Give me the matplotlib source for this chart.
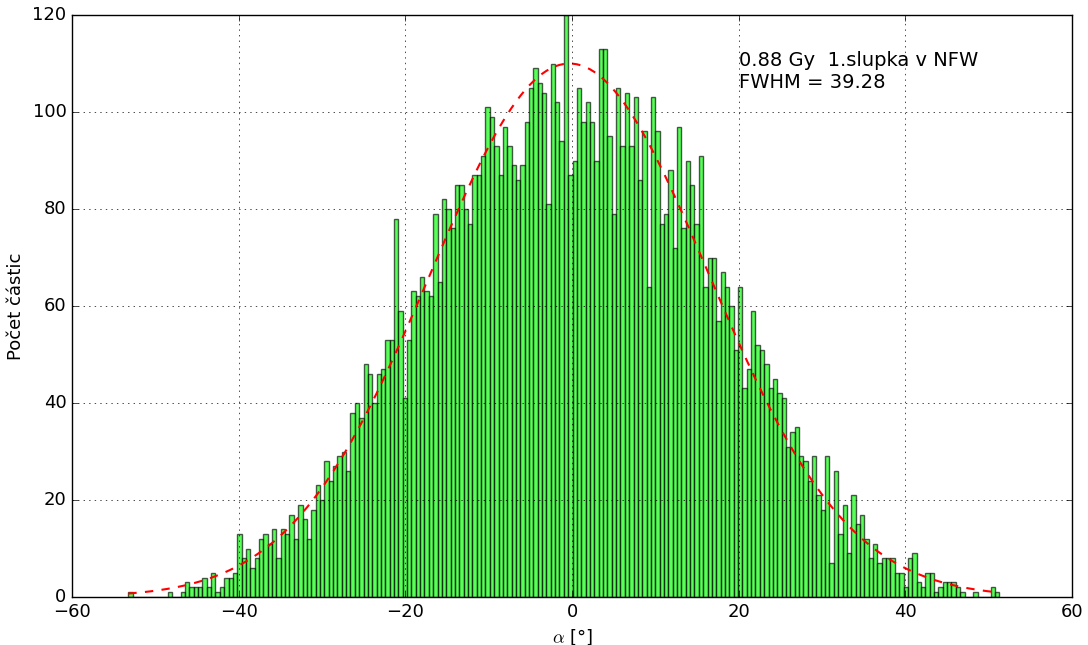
import numpy as np
import matplotlib
matplotlib.use('Agg')
import matplotlib.pyplot as plt

plt.style.use('classic')

# histogram of alpha angles, 200 bins between data min and max
alpha_min = -53.24
alpha_max = 51.28
counts = [
    1, 0, 0, 0, 0, 0, 0, 0, 0, 1,
    0, 0, 1, 3, 2, 2, 2, 4, 2, 5,
    1, 2, 4, 4, 5, 13, 8, 10, 6, 8,
    12, 13, 11, 14, 8, 14, 13, 17, 12, 19,
    16, 12, 18, 23, 20, 28, 24, 27, 29, 30,
    26, 38, 40, 37, 48, 46, 40, 46, 47, 53,
    53, 78, 59, 41, 53, 63, 62, 66, 63, 62,
    79, 65, 82, 80, 76, 85, 85, 80, 77, 87,
    87, 91, 101, 99, 93, 87, 97, 93, 89, 86,
    89, 98, 105, 109, 106, 104, 81, 110, 102, 94,
    120, 87, 90, 105, 98, 102, 98, 90, 113, 113,
    95, 79, 105, 93, 104, 93, 103, 86, 96, 64,
    103, 96, 77, 79, 88, 72, 97, 76, 90, 85,
    77, 91, 64, 70, 70, 57, 67, 64, 60, 51,
    64, 43, 47, 59, 52, 51, 48, 43, 45, 42,
    41, 31, 34, 35, 29, 28, 24, 29, 21, 18,
    29, 7, 26, 13, 19, 9, 21, 15, 17, 12,
    8, 11, 7, 8, 8, 8, 5, 5, 2, 8,
    9, 3, 2, 5, 5, 1, 2, 3, 3, 3,
    2, 1, 0, 0, 1, 0, 0, 0, 2, 1,
]

# gaussian fit
fit_amp = 110.0
fit_mu = -0.3
fwhm = 39.28
fit_sigma = fwhm / (2 * np.sqrt(2 * np.log(2)))

bins = np.linspace(alpha_min, alpha_max, len(counts) + 1)
width = bins[1] - bins[0]

fig = plt.figure(figsize=(10.88, 6.45), dpi=100, facecolor='white')
ax = fig.add_axes([0.0662, 0.0744, 0.9191, 0.9023])

ax.bar(bins[:-1], counts, width=width, align='edge', color='#00ff00',
       alpha=0.65, edgecolor='black', linewidth=1)

fit = fit_amp * np.exp(-(bins - fit_mu) ** 2 / (2 * fit_sigma ** 2))
ax.plot(bins, fit, 'r--', linewidth=1.5)

ax.text(20, 105, '0.88 Gy  1.slupka v NFW\nFWHM = %.2f' % fwhm, fontsize=14)

ax.set_xlim(-60, 60)
ax.set_ylim(0, 120)
ax.set_xlabel(r'$\alpha$ [°]', fontsize=13)
ax.set_ylabel('Počet částic', fontsize=13)
ax.tick_params(labelsize=13)
ax.grid(True)

fig.savefig('out.png', dpi=100, facecolor='white')
